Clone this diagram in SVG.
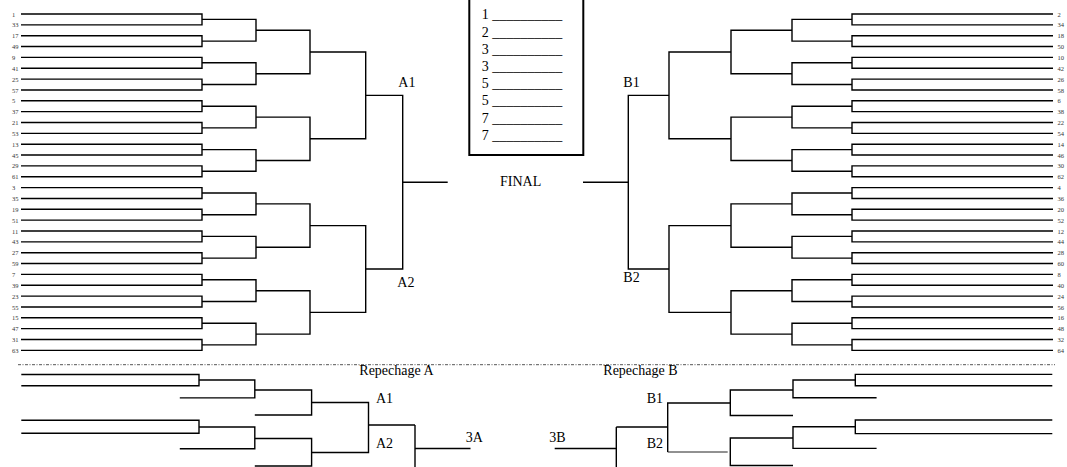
<svg xmlns="http://www.w3.org/2000/svg" width="1067" height="467" viewBox="0 0 1067 467">
<style>
.c{fill:none;stroke:#000;stroke-width:1.4;stroke-linecap:butt}
.thin{fill:none;stroke:#222;stroke-width:1}
.dot{fill:none;stroke:#555;stroke-width:1;stroke-dasharray:3 1.5 1 1.5}
.n{font-family:"Liberation Serif","Times New Roman",serif;font-size:6.5px;fill:#333}
.nr{font-family:"Liberation Serif","Times New Roman",serif;font-size:6.5px;fill:#333}
.l{font-family:"Liberation Serif","Times New Roman",serif;font-size:14px;fill:#000}
.box{fill:none;stroke:#000;stroke-width:2}
</style>
<rect x="0" y="0" width="1067" height="467" fill="#fff"/>
<g id="connectors">
<path class="c" d="M21 14H202V24.85H21M21 35.7H202V46.55H21M21 57.4H202V68.25H21M21 79.1H202V89.95H21M21 100.8H202V111.65H21M21 122.5H202V133.35H21M21 144.2H202V155.05H21M21 165.9H202V176.75H21M21 187.6H202V198.45H21M21 209.3H202V220.15H21M21 231H202V241.85H21M21 252.7H202V263.55H21M21 274.4H202V285.25H21M21 296.1H202V306.95H21M21 317.8H202V328.65H21M21 339.5H202V350.35H21"/>
<path class="c" d="M202 19.4H256V41.1H202M202 62.8H256V84.5H202M202 106.2H256V127.9H202M202 149.6H256V171.3H202M202 193H256V214.7H202M202 236.4H256V258.1H202M202 279.8H256V301.5H202M202 323.2H256V344.9H202"/>
<path class="c" d="M256 30.3H310V73.7H256M256 117.1H310V160.5H256M256 203.9H310V247.3H256M256 290.7H310V334.1H256"/>
<path class="c" d="M310 52H365.7V138.8H310M310 225.6H365.7V312.4H310"/>
<path class="c" d="M365.7 95.4H402.7V269H365.7M402.7 182.2H447.7"/>
<path class="c" d="M1053 14H852V24.85H1053M1053 35.7H852V46.55H1053M1053 57.4H852V68.25H1053M1053 79.1H852V89.95H1053M1053 100.8H852V111.65H1053M1053 122.5H852V133.35H1053M1053 144.2H852V155.05H1053M1053 165.9H852V176.75H1053M1053 187.6H852V198.45H1053M1053 209.3H852V220.15H1053M1053 231H852V241.85H1053M1053 252.7H852V263.55H1053M1053 274.4H852V285.25H1053M1053 296.1H852V306.95H1053M1053 317.8H852V328.65H1053M1053 339.5H852V350.35H1053"/>
<path class="c" d="M852 19.4H792V41.1H852M852 62.8H792V84.5H852M852 106.2H792V127.9H852M852 149.6H792V171.3H852M852 193H792V214.7H852M852 236.4H792V258.1H852M852 279.8H792V301.5H852M852 323.2H792V344.9H852"/>
<path class="c" d="M792 30.3H731V73.7H792M792 117.1H731V160.5H792M792 203.9H731V247.3H792M792 290.7H731V334.1H792"/>
<path class="c" d="M731 52H669V138.8H731M731 225.6H669V312.4H731"/>
<path class="c" d="M669 95.4H628.3V269H669M628.3 182.2H583"/>
<path class="dot" d="M18 364.7H1055"/>
<path class="c" d="M21.3 374.5H199V385.8H21.3M199 380H254.8V397.9H179.8M254.8 390H311.6V415H254.8M21.3 420.3H199V433.3H21.3M199 427H254.8V448.8H179.8M254.8 438.5H311.6V466H254.8M311.6 402.5H368.5V452.5H311.6M368.5 425H415M415 425V467M415 448.5H470.5"/>
<path class="c" d="M1052.3 374.4H855.3V385.7H1052.3M855.3 380H793V397.7H876.6M793 390H730.3V415.5H793M1052.3 420H855.3V433.6H1052.3M855.3 426.8H793V448.4H876.6M793 438H730.3V465.5H793M730.3 403H667.7V452M667.7 427H616.3M616.3 427V467M616.3 448.5H554.7"/>
<path class="thin" d="M667.7 452H727.7"/>
</g>
<g id="results-box">
<path class="box" d="M469.3 -2V155H583.3V-2"/>
<text class="l" x="481.7" y="19.3">1 __________</text>
<text class="l" x="481.7" y="36.5">2 __________</text>
<text class="l" x="481.7" y="53.7">3 __________</text>
<text class="l" x="481.7" y="70.9">3 __________</text>
<text class="l" x="481.7" y="88.1">5 __________</text>
<text class="l" x="481.7" y="105.3">5 __________</text>
<text class="l" x="481.7" y="122.5">7 __________</text>
<text class="l" x="481.7" y="139.7">7 __________</text>
</g>
<g id="final"><text class="l" x="500" y="185.5">FINAL</text></g>
<g id="main-labels">
<text class="l" x="398.3" y="87.3">A1</text>
<text class="l" x="397.3" y="286.7">A2</text>
<text class="l" x="623.3" y="86.7">B1</text>
<text class="l" x="623.3" y="282.3">B2</text>
</g>
<g id="repechage-labels">
<text class="l" x="359.3" y="375">Repechage A</text>
<text class="l" x="603.3" y="375">Repechage B</text>
<text class="l" x="376" y="403">A1</text>
<text class="l" x="376" y="448">A2</text>
<text class="l" x="465.7" y="442">3A</text>
<text class="l" x="549.3" y="442">3B</text>
<text class="l" x="646.7" y="403">B1</text>
<text class="l" x="646.7" y="448">B2</text>
</g>
<g id="left-seeds" class="n">
<text x="12" y="16.5">1</text><text x="12" y="27.4">33</text><text x="12" y="38.2">17</text><text x="12" y="49.1">49</text>
<text x="12" y="59.9">9</text><text x="12" y="70.8">41</text><text x="12" y="81.6">25</text><text x="12" y="92.5">57</text>
<text x="12" y="103.3">5</text><text x="12" y="114.2">37</text><text x="12" y="125">21</text><text x="12" y="135.9">53</text>
<text x="12" y="146.7">13</text><text x="12" y="157.6">45</text><text x="12" y="168.4">29</text><text x="12" y="179.3">61</text>
<text x="12" y="190.1">3</text><text x="12" y="201">35</text><text x="12" y="211.8">19</text><text x="12" y="222.7">51</text>
<text x="12" y="233.5">11</text><text x="12" y="244.4">43</text><text x="12" y="255.2">27</text><text x="12" y="266.1">59</text>
<text x="12" y="276.9">7</text><text x="12" y="287.8">39</text><text x="12" y="298.6">23</text><text x="12" y="309.5">55</text>
<text x="12" y="320.3">15</text><text x="12" y="331.2">47</text><text x="12" y="342">31</text><text x="12" y="352.9">63</text>
</g>
<g id="right-seeds" class="nr">
<text x="1057.5" y="16.5">2</text><text x="1057.5" y="27.4">34</text><text x="1057.5" y="38.2">18</text><text x="1057.5" y="49.1">50</text>
<text x="1057.5" y="59.9">10</text><text x="1057.5" y="70.8">42</text><text x="1057.5" y="81.6">26</text><text x="1057.5" y="92.5">58</text>
<text x="1057.5" y="103.3">6</text><text x="1057.5" y="114.2">38</text><text x="1057.5" y="125">22</text><text x="1057.5" y="135.9">54</text>
<text x="1057.5" y="146.7">14</text><text x="1057.5" y="157.6">46</text><text x="1057.5" y="168.4">30</text><text x="1057.5" y="179.3">62</text>
<text x="1057.5" y="190.1">4</text><text x="1057.5" y="201">36</text><text x="1057.5" y="211.8">20</text><text x="1057.5" y="222.7">52</text>
<text x="1057.5" y="233.5">12</text><text x="1057.5" y="244.4">44</text><text x="1057.5" y="255.2">28</text><text x="1057.5" y="266.1">60</text>
<text x="1057.5" y="276.9">8</text><text x="1057.5" y="287.8">40</text><text x="1057.5" y="298.6">24</text><text x="1057.5" y="309.5">56</text>
<text x="1057.5" y="320.3">16</text><text x="1057.5" y="331.2">48</text><text x="1057.5" y="342">32</text><text x="1057.5" y="352.9">64</text>
</g>
</svg>
